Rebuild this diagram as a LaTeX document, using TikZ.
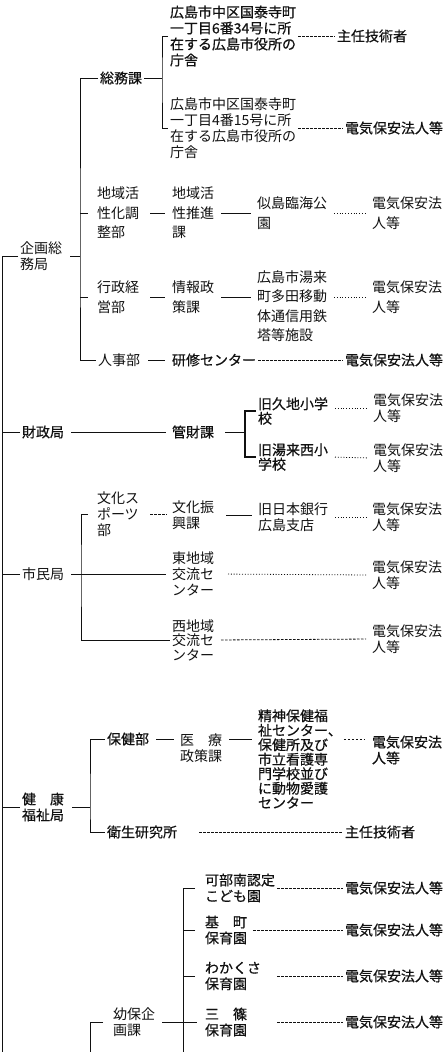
\documentclass[tikz,border=0pt]{standalone}
\usepackage{fontspec}
\newfontfamily\cjk{Noto Sans CJK JP}
\newfontfamily\cjkb[FakeBold=0.6]{Noto Sans CJK JP}
\usepackage{tikz}
\usetikzlibrary{positioning,calc}
\definecolor{ink}{HTML}{111111}

\begin{document}
\begin{tikzpicture}[x=1pt,y=-1pt,line width=0.8pt,ink,
  txt/.style={anchor=west,inner sep=0pt,outer sep=2pt,align=left,font=\cjk\fontsize{14}{16}\selectfont},
  bf/.style={font=\cjkb\fontsize{14}{16}\selectfont},
  loose/.style={font=\cjk\fontsize{14}{19.5}\selectfont},
  tight/.style={font=\cjk\fontsize{14}{14.5}\selectfont},
  tightbf/.style={font=\cjkb\fontsize{14}{14.5}\selectfont},
  dsh/.style={dash pattern=on 2.5pt off 1.5pt},
  dot/.style={dash pattern=on 1pt off 1.8pt},
  gap/.style={shorten <=5pt,shorten >=4pt}]
  \useasboundingbox (0,0) rectangle (446,1052);

  % 企画総務局
  \node[txt] (kikaku) at (18,256) {企画総\\務局};
  \node[txt,bf] (somu) at (98,78) {総務課};
  \node[txt,bf] (ch1) at (168,36) {広島市中区国泰寺町\\一丁目6番34号に所\\在する広島市役所の\\庁舎};
  \node[txt] (ch2) at (168,128) {広島市中区国泰寺町\\一丁目4番15号に所\\在する広島市役所の\\庁舎};
  \node[txt,bf] (gi1) at (335,36) {主任技術者};
  \node[txt,bf] (ele0) at (343,128) {電気保安法人等};
  \node[txt,loose] (chiiki) at (95,213) {地域活\\性化調\\整部};
  \node[txt,loose] (suishin) at (170,213) {地域活\\性推進\\課};
  \node[txt,loose] (ninoshima) at (255,213) {似島臨海公\\園};
  \node[txt,loose] (ele1) at (370,213) {電気保安法\\人等};
  \node[txt,loose] (gyosei) at (95,297) {行政経\\営部};
  \node[txt,loose] (johosei) at (170,297) {情報政\\策課};
  \node[txt,loose] (yuki) at (255,306) {広島市湯来\\町多田移動\\体通信用鉄\\塔等施設};
  \node[txt,loose] (ele2) at (370,297) {電気保安法\\人等};
  \node[txt] (jinji) at (96,360) {人事部};
  \node[txt,bf] (kenshu) at (170,360) {研修センター};
  \node[txt,bf] (ele3) at (343,360) {電気保安法人等};

  \coordinate (trunk) at (2,1052);
  \coordinate (sp1) at (80,256);
  \coordinate (br1) at (162,78);
  \draw (kikaku.west) -| (trunk);
  \draw[shorten <=6pt] (kikaku.east) -- (sp1);
  \draw (somu.west) -| (sp1) |- (jinji.west);
  \draw[shorten >=7pt] (sp1 |- chiiki.west) -- (chiiki.west);
  \draw[shorten >=7pt] (sp1 |- gyosei.west) -- (gyosei.west);
  \draw (somu.east) -- (br1);
  \draw (ch1.west) -| (br1) |- (ch2.west);
  \draw[dsh] (ch1.east) -- (gi1.west);
  \draw[dsh] (ch2.east) -- (ele0.west);
  \draw[thick,shorten <=9pt,shorten >=5pt] (chiiki.east) -- (suishin.west);
  \draw[gap] (suishin.east) -- (ninoshima.west);
  \draw[dot,gap] (ninoshima.east) -- (ele1.west);
  \draw[shorten <=9pt,shorten >=5pt] (gyosei.east) -- (johosei.west);
  \draw[gap] (johosei.east) -- (johosei.east -| yuki.west);
  \draw[dot,gap] (yuki.east |- ele2.west) -- (ele2.west);
  \draw[shorten <=6pt,shorten >=5pt] (jinji.east) -- (kenshu.west);
  \draw[dsh] (kenshu.east) -- (ele3.west);

  % 財政局
  \node[txt,bf] (zaisei) at (20,432) {財政局};
  \node[txt,bf] (kanzai) at (170,432) {管財課};
  \node[txt,tightbf] (kuchi) at (256,411) {旧久地小学\\校};
  \node[txt,tightbf] (yukinishi) at (256,457) {旧湯来西小\\学校};
  \node[txt] (ele4) at (371,408) {電気保安法\\人等};
  \node[txt] (ele5) at (371,458) {電気保安法\\人等};
  \coordinate (br2) at (245,432);
  \draw (zaisei.west) -- (zaisei.west -| trunk);
  \draw[gap] (zaisei.east) -- (kanzai.west);
  \draw[shorten <=9pt] (kanzai.east) -- (br2);
  \draw[line width=1.5pt] (kuchi.west) -| (br2) |- (yukinishi.west);
  \draw[dot,gap] (kuchi.east |- ele4.west) -- (ele4.west);
  \draw[dot,gap] (yukinishi.east) -- (ele5.west);

  % 市民局
  \node[txt] (shimin) at (20,574) {市民局};
  \node[txt] (bunka) at (95,514) {文化ス\\ポーツ\\部};
  \node[txt] (shinko) at (170,515) {文化振\\興課};
  \node[txt] (ginko) at (256,517) {旧日本銀行\\広島支店};
  \node[txt] (ele6) at (370,517) {電気保安法\\人等};
  \node[txt] (higashi) at (170,574) {東地域\\交流セ\\ンター};
  \node[txt] (ele7) at (370,575) {電気保安法\\人等};
  \node[txt,tight] (nishi) at (170,640) {西地域\\交流セ\\ンター};
  \node[txt] (ele8) at (370,639) {電気保安法\\人等};
  \coordinate (sp2) at (81,574);
  \draw (shimin.west) -- (shimin.west -| trunk);
  \draw[gap] (shimin.east) -- (higashi.west);
  \draw[shorten <=7pt] (bunka.west) -| (sp2) |- (nishi.west);
  \draw[dsh,shorten <=9pt,shorten >=3pt] (bunka.east) -- (bunka.east -| shinko.west);
  \draw[gap,shorten <=10pt] (shinko.east) -- (shinko.east -| ginko.west);
  \draw[dot,gap] (ginko.east) -- (ele6.west);
  \draw[dot,gap,shorten <=12pt] (higashi.east) -- (ele7.west);
  \draw[dsh,gap] (nishi.east) -- (ele8.west);

  % 健康福祉局
  \node[txt,bf] (kenko) at (20,807) {健　康\\福祉局};
  \node[txt,bf] (hoken) at (105,739) {保健部};
  \node[txt] (iryo) at (178,748) {医　療\\政策課};
  \node[txt,tightbf] (seishin) at (256,759) {精神保健福\\祉センター、\\保健所及び\\市立看護専\\門学校並び\\に動物愛護\\センター};
  \node[txt,bf] (ele9) at (370,750) {電気保安法\\人等};
  \node[txt,bf] (eisei) at (105,832) {衛生研究所};
  \node[txt,bf] (gi2) at (343,832) {主任技術者};
  \coordinate (sp3) at (90,807);
  \draw (kenko.west) -- (kenko.west -| trunk);
  \draw[shorten <=6pt] (kenko.east) -- (sp3);
  \draw (hoken.west) -| (sp3) |- (eisei.west);
  \draw[gap] (hoken.east) -- (hoken.east -| iryo.west);
  \draw[gap] (iryo.east |- hoken.east) -- (hoken.east -| seishin.west);
  \draw[dsh,shorten >=5pt] (seishin.east |- hoken.east) -- (hoken.east -| ele9.west);
  \draw[dsh,shorten <=20pt] (eisei.east) -- (gi2.west);

  % 幼保企画課
  \node[txt] (yoho) at (111,1022) {幼保企\\画課};
  \node[txt,bf] (kabe) at (203,888) {可部南認定\\こども園};
  \node[txt,bf] (motomachi) at (203,930) {基　町\\保育園};
  \node[txt,bf] (wakakusa) at (203,976) {わかくさ\\保育園};
  \node[txt,bf] (misasa) at (203,1022) {三　篠\\保育園};
  \node[txt,bf] (ele10) at (343,888) {電気保安法人等};
  \node[txt,bf] (ele11) at (343,930) {電気保安法人等};
  \node[txt,bf] (ele12) at (343,976) {電気保安法人等};
  \node[txt,bf] (ele13) at (343,1022) {電気保安法人等};
  \coordinate (sp4) at (183,1052);
  \coordinate (sp5) at (90,1052);
  \draw[shorten <=8pt] (yoho.west) -| (sp5);
  \draw[gap,shorten >=6pt] (yoho.east) -- (misasa.west);
  \draw[shorten <=8pt] (kabe.west) -| (sp4);
  \draw[shorten <=8pt] (motomachi.west) -- (motomachi.west -| sp4);
  \draw[shorten <=8pt] (wakakusa.west) -- (wakakusa.west -| sp4);
  \draw[dsh] (kabe.east) -- (ele10.west);
  \draw[dsh,shorten <=4pt] (motomachi.east) -- (ele11.west);
  \draw[dsh] (wakakusa.east -| kabe.east) -- (ele12.west);
  \draw[dsh] (misasa.east -| kabe.east) -- (ele13.west);
\end{tikzpicture}
\end{document}
